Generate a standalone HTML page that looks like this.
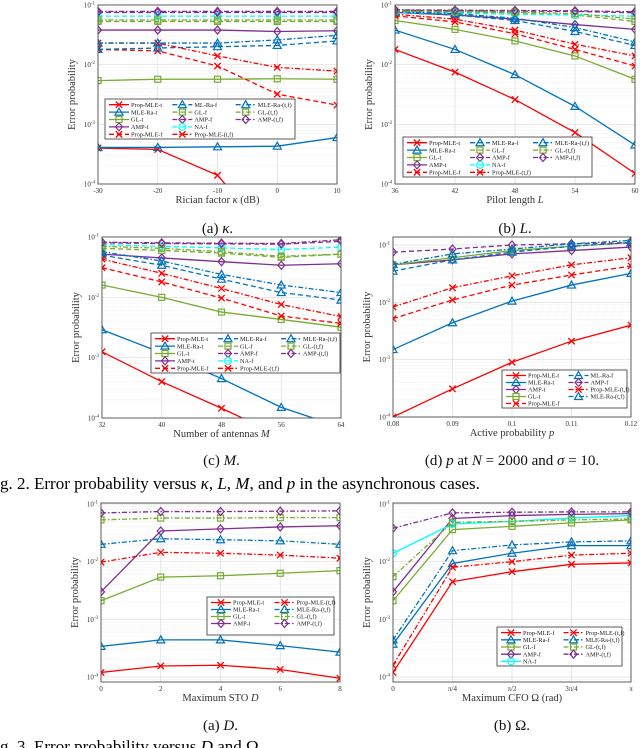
<!DOCTYPE html>
<html><head><meta charset="utf-8"><style>
html,body{margin:0;padding:0;background:#fff;}
svg{display:block;font-family:"Liberation Serif",serif;}
</style></head><body>
<svg id="fig" width="640" height="748" viewBox="0 0 640 748" xmlns="http://www.w3.org/2000/svg">
<text x="0" y="489" font-size="17">g. 2. Error probability versus <tspan font-style="italic">κ</tspan>, <tspan font-style="italic">L</tspan>, <tspan font-style="italic">M</tspan>, and <tspan font-style="italic">p</tspan> in the asynchronous cases.</text>
<text x="0" y="752" font-size="17">g. 3. Error probability versus <tspan font-style="italic">D</tspan> and Ω.</text>
</svg>
<script>
// ---------- Chart (a) kappa ----------
const kappaX=[-30,-20,-10,0,10];
const kappaTicks=['-30','-20','-10','0','10'];
const kappa_PropMLE_t=[4e-4,3.8e-4,1.4e-4,1e-5,1e-5];
const kappa_MLERa_t=[4.1e-4,4.1e-4,4.2e-4,4.3e-4,6e-4];
const kappa_GL_t=[0.0054,0.0057,0.0057,0.0058,0.0057];
const kappa_AMP_t=[0.038,0.038,0.038,0.036,0.037];
const kappa_PropMLE_f=[0.018,0.017,0.0095,0.0032,0.0021];
const kappa_MLRa_f=[0.018,0.019,0.02,0.021,0.025];
const kappa_GL_f=[0.053,0.053,0.053,0.053,0.053];
const kappa_AMP_f=[0.075,0.075,0.075,0.075,0.075];
const kappa_NA_f=[0.065,0.065,0.065,0.065,0.065];
const kappa_PropMLE_tf=[0.023,0.023,0.014,0.009,0.0078];
const kappa_MLERa_tf=[0.023,0.023,0.023,0.026,0.031];
const kappa_GL_tf=[0.056,0.056,0.056,0.056,0.056];
const kappa_AMP_tf=[0.078,0.078,0.078,0.078,0.078];
// ---------- Chart (b) L ----------
const lenX=[36,42,48,54,60];
const lenTicks=['36','42','48','54','60'];
const len_PropMLE_t=[0.018,0.0075,0.0026,0.00073,0.00015];
const len_MLERa_t=[0.038,0.018,0.0068,0.002,0.00045];
const len_GL_t=[0.055,0.039,0.025,0.014,0.0057];
const len_AMP_t=[0.075,0.068,0.058,0.047,0.039];
const len_PropMLE_f=[0.066,0.052,0.033,0.018,0.0095];
const len_MLERa_f=[0.075,0.068,0.055,0.036,0.021];
const len_GL_f=[0.078,0.076,0.074,0.068,0.053];
const len_AMP_f=[0.082,0.08,0.079,0.078,0.074];
const len_NA_f=[0.075,0.073,0.07,0.068,0.065];
const len_PropMLE_tf=[0.07,0.058,0.038,0.022,0.014];
const len_MLERa_tf=[0.077,0.072,0.06,0.042,0.024];
const len_GL_tf=[0.079,0.078,0.076,0.072,0.058];
const len_AMP_tf=[0.083,0.082,0.081,0.08,0.077];
// ---------- Chart (c) M ----------
const antX=[32,40,48,56,64];
const antTicks=['32','40','48','56','64'];
const ant_PropMLE_t=[0.00125,0.0004,0.000145,0.00005,0.00002];
const ant_MLERa_t=[0.0029,0.0012,0.00045,0.00015,0.00007];
const ant_GL_t=[0.016,0.01,0.0057,0.0043,0.0032];
const ant_AMP_t=[0.052,0.045,0.039,0.034,0.036];
const ant_PropMLE_f=[0.031,0.018,0.0097,0.0049,0.0037];
const ant_MLERa_f=[0.05,0.034,0.02,0.012,0.009];
const ant_GL_f=[0.065,0.06,0.054,0.046,0.052];
const ant_AMP_f=[0.08,0.078,0.077,0.076,0.085];
const ant_NA_f=[0.075,0.07,0.066,0.062,0.068];
const ant_PropMLE_tf=[0.043,0.025,0.014,0.0076,0.0048];
const ant_MLERa_tf=[0.057,0.04,0.024,0.016,0.012];
const ant_GL_tf=[0.07,0.065,0.057,0.048,0.052];
const ant_AMP_tf=[0.082,0.08,0.079,0.078,0.09];
// ---------- Chart (d) p ----------
const probX=[0.08,0.09,0.1,0.11,0.12];
const probTicks=['0.08','0.09','0.1','0.11','0.12'];
const prob_PropMLE_t=[0.0001,0.00031,0.0009,0.0021,0.004];
const prob_MLERa_t=[0.0015,0.0044,0.0105,0.02,0.032];
const prob_AMP_t=[0.045,0.055,0.07,0.08,0.092];
const prob_GL_t=[0.045,0.06,0.08,0.095,0.11];
const prob_PropMLE_f=[0.0052,0.011,0.02,0.03,0.043];
const prob_MLRa_f=[0.035,0.055,0.075,0.095,0.11];
const prob_AMP_f=[0.075,0.085,0.1,0.105,0.11];
const prob_PropMLE_tf=[0.0083,0.018,0.029,0.045,0.06];
const prob_MLERa_tf=[0.046,0.07,0.085,0.105,0.12];
// ---------- Fig3 (a) D ----------
const stoX=[0,2,4,6,8];
const stoTicks=['0','2','4','6','8'];
const sto_PropMLE_t=[0.00012,0.000155,0.00016,0.000135,0.000095];
const sto_MLERa_t=[0.00034,0.00044,0.00044,0.00035,0.00027];
const sto_GL_t=[0.0021,0.0054,0.0057,0.0063,0.007];
const sto_AMP_t=[0.003,0.034,0.037,0.04,0.042];
const sto_PropMLE_tf=[0.0098,0.0145,0.014,0.013,0.0115];
const sto_MLERa_tf=[0.02,0.025,0.024,0.023,0.02];
const sto_GL_tf=[0.053,0.057,0.057,0.058,0.058];
const sto_AMP_tf=[0.07,0.074,0.074,0.075,0.076];
// ---------- Fig3 (b) Omega ----------
const cfoX=[0,1,2,3,4];
const cfoTicks=['0','π/4','π/2','3π/4','π'];
const cfo_PropMLE_f=[0.00012,0.0045,0.0067,0.009,0.0095];
const cfo_MLERa_f=[0.00037,0.0093,0.014,0.019,0.019];
const cfo_GL_f=[0.0021,0.036,0.041,0.047,0.053];
const cfo_AMP_f=[0.003,0.056,0.063,0.066,0.068];
const cfo_NA_f=[0.014,0.045,0.05,0.057,0.063];
const cfo_PropMLE_tf=[0.00016,0.008,0.01,0.013,0.014];
const cfo_MLERa_tf=[0.00044,0.0155,0.0195,0.022,0.023];
const cfo_GL_tf=[0.0055,0.048,0.05,0.053,0.055];
const cfo_AMP_tf=[0.038,0.07,0.072,0.073,0.073];

const NS='http://www.w3.org/2000/svg';
const svg=document.getElementById('fig');
const COL={p:'#ff0000',m:'#0072bd',g:'#77ac30',a:'#7e2f8e',n:'#00ffff'};
const DASH={t:'',f:'5,3',tf:'5,2,1.5,2'};
function mk(tag,attrs,parent){const e=document.createElementNS(NS,tag);for(const k in attrs)e.setAttribute(k,attrs[k]);(parent||svg).appendChild(e);return e;}
function marker(g,type,x,y,c){
  let e;const r=3.2;
  if(type==='x'){e=mk('path',{d:`M${x-r} ${y-r}L${x+r} ${y+r}M${x-r} ${y+r}L${x+r} ${y-r}`,stroke:c,'stroke-width':1.3,fill:'none'},g);}
  else if(type==='tri'){e=mk('path',{d:`M${x} ${y-4}L${x+4} ${y+3}L${x-4} ${y+3}Z`,stroke:c,'stroke-width':1.2,fill:'none'},g);}
  else if(type==='sq'){e=mk('rect',{x:x-3,y:y-3,width:6,height:6,stroke:c,'stroke-width':1.2,fill:'none'},g);}
  else if(type==='dia'){e=mk('path',{d:`M${x} ${y-4}L${x+3.5} ${y}L${x} ${y+4}L${x-3.5} ${y}Z`,stroke:c,'stroke-width':1.2,fill:'none'},g);}
  else {e=mk('circle',{cx:x,cy:y,r:3.4,stroke:c,'stroke-width':1.2,fill:'none'},g);}
  
  
}
const MK={p:'x',m:'tri',g:'sq',a:'dia',n:'circ'};
let clipId=0;
function chart(cfg){
  const {id,x0,x1,y1,y4,axTop,axBot,xv,xt,series,xlabel,caption,capY,leg}=cfg;
  const g=mk('g',{});
  
  
  const dec=(y4-y1)/3;
  const xs=v=>x0+(v-xv[0])/(xv[xv.length-1]-xv[0])*(x1-x0);
  const ys=v=>y1+(-1-Math.log10(v))*dec;
  for(let d=-5;d<=-1;d++){for(let k=1;k<10;k++){const v=k*Math.pow(10,d);const y=ys(v);if(y<axTop-0.1||y>axBot+0.1)continue;
    const gl=mk('line',{x1:x0,x2:x1,y1:y,y2:y,stroke:k===1?'#dcdcdc':'#ececec','stroke-width':0.7,'stroke-dasharray':k===1?'':'1,1'},g);
    }}
  xv.forEach(v=>{const gl=mk('line',{x1:xs(v),x2:xs(v),y1:axTop,y2:axBot,stroke:'#dcdcdc','stroke-width':0.7},g);
    });
  const cid='c'+(clipId++);
  const cp=mk('clipPath',{id:cid},g);mk('rect',{x:x0,y:axTop,width:x1-x0,height:axBot-axTop},cp);
  const sg=mk('g',{'clip-path':`url(#${cid})`},g);
  series.forEach(s=>{
    const c=COL[s.k];
    const pts=s.v.map((v,i)=>xs(xv[i]).toFixed(2)+','+ys(v).toFixed(2)).join(' ');
    const ln=mk('polyline',{points:pts,fill:'none',stroke:c,'stroke-width':1.3,'stroke-dasharray':DASH[s.d]},sg);
    
    
    s.v.forEach((v,i)=>marker(sg,MK[s.k],xs(xv[i]),ys(v),c));
  });
  const bx=mk('rect',{x:x0,y:axTop,width:x1-x0,height:axBot-axTop,fill:'none',stroke:'#4d4d4d','stroke-width':0.9},g);
  
  for(let d=-4;d<=-1;d++){const y=ys(Math.pow(10,d));
    const t=mk('text',{x:x0-3,y:y+2.5,'font-size':7,'text-anchor':'end',fill:'#333'},g);
    t.textContent='10';const sp=mk('tspan',{dy:-3,'font-size':5},t);sp.textContent=String(d);
    }
  xv.forEach((v,i)=>{const t=mk('text',{x:xs(v),y:axBot+9,'font-size':7,'text-anchor':'middle',fill:'#333'},g);
    t.textContent=xt[i];});
  const yl=mk('text',{x:0,y:0,'font-size':10.5,'text-anchor':'middle',fill:'#333',transform:`translate(${x0-23},${(axTop+axBot)/2}) rotate(-90)`},g);
  yl.textContent='Error probability';
  const xl=mk('text',{x:(x0+x1)/2,y:axBot+19,'font-size':10.5,'text-anchor':'middle',fill:'#333'},g);
  xl.innerHTML=xlabel;
  const cap=mk('text',{x:(x0+x1)/2,y:capY,'font-size':15,'text-anchor':'middle',fill:'#111'},g);
  cap.innerHTML=caption;
  const lg=mk('g',{},g);
  
  mk('rect',{x:leg.x,y:leg.y,width:leg.w,height:leg.h,fill:'#fff',stroke:'#333','stroke-width':0.8},lg);
  const rows=5,rh=(leg.h-3)/rows,cw=leg.w/leg.cols.length;
  leg.cols.forEach((col,ci)=>col.forEach((name,ri)=>{
    const s=series.find(q=>q.name===name)||{name:name,k:name.startsWith('Prop')?'p':name.startsWith('GL')?'g':name.startsWith('AMP')?'a':name.startsWith('NA')?'n':'m',d:name.endsWith('(t,f)')?'tf':name.endsWith('-t')?'t':'f'};
    const lx=leg.x+4+ci*cw,ly=leg.y+2+rh*(ri+0.5);
    const e=mk('g',{},lg);
    
    mk('line',{x1:lx,x2:lx+20,y1:ly,y2:ly,stroke:COL[s.k],'stroke-width':1.3,'stroke-dasharray':DASH[s.d]},e);
    marker(e,MK[s.k],lx+10,ly,COL[s.k]);
    const t=mk('text',{x:lx+22,y:ly+2.2,'font-size':6.3,fill:'#222'},e);t.textContent=name;
  }));
}
function S(name,k,d,v){return {name,k,d,v};}
chart({id:'kappa',x0:98,x1:337,y1:5,y4:184,axTop:5,axBot:184,xv:kappaX,xt:kappaTicks,
 xlabel:'Rician factor <tspan font-style="italic">κ</tspan> (dB)',caption:'(a)  <tspan font-style="italic">κ</tspan>.',capY:233,
 series:[S('Prop-MLE-t','p','t',kappa_PropMLE_t),S('MLE-Ra-t','m','t',kappa_MLERa_t),S('GL-t','g','t',kappa_GL_t),S('AMP-t','a','t',kappa_AMP_t),
  S('Prop-MLE-f','p','f',kappa_PropMLE_f),S('ML-Ra-f','m','f',kappa_MLRa_f),S('GL-f','g','f',kappa_GL_f),S('AMP-f','a','f',kappa_AMP_f),S('NA-f','n','f',kappa_NA_f),
  S('Prop-MLE-(t,f)','p','tf',kappa_PropMLE_tf),S('MLE-Ra-(t,f)','m','tf',kappa_MLERa_tf),S('GL-(t,f)','g','tf',kappa_GL_tf),S('AMP-(t,f)','a','tf',kappa_AMP_tf)],
 leg:{x:105,y:99,w:190,h:40,cols:[['Prop-MLE-t','MLE-Ra-t','GL-t','AMP-t','Prop-MLE-f'],['ML-Ra-f','GL-f','AMP-f','NA-f','Prop-MLE-(t,f)'],['MLE-Ra-(t,f)','GL-(t,f)','AMP-(t,f)']]}});
chart({id:'pilot',x0:395,x1:635,y1:5,y4:184,axTop:5,axBot:184,xv:lenX,xt:lenTicks,
 xlabel:'Pilot length <tspan font-style="italic">L</tspan>',caption:'(b)  <tspan font-style="italic">L</tspan>.',capY:233,
 series:[S('Prop-MLE-t','p','t',len_PropMLE_t),S('MLE-Ra-t','m','t',len_MLERa_t),S('GL-t','g','t',len_GL_t),S('AMP-t','a','t',len_AMP_t),
  S('Prop-MLE-f','p','f',len_PropMLE_f),S('MLE-Ra-f','m','f',len_MLERa_f),S('GL-f','g','f',len_GL_f),S('AMP-f','a','f',len_AMP_f),S('NA-f','n','f',len_NA_f),
  S('Prop-MLE-(t,f)','p','tf',len_PropMLE_tf),S('MLE-Ra-(t,f)','m','tf',len_MLERa_tf),S('GL-(t,f)','g','tf',len_GL_tf),S('AMP-(t,f)','a','tf',len_AMP_tf)],
 leg:{x:403,y:137,w:189,h:40,cols:[['Prop-MLE-t','MLE-Ra-t','GL-t','AMP-t','Prop-MLE-f'],['MLE-Ra-f','GL-f','AMP-f','NA-f','Prop-MLE-(t,f)'],['MLE-Ra-(t,f)','GL-(t,f)','AMP-(t,f)']]}});
chart({id:'antennas',x0:102,x1:341,y1:237,y4:418,axTop:237,axBot:418,xv:antX,xt:antTicks,
 xlabel:'Number of antennas <tspan font-style="italic">M</tspan>',caption:'(c)  <tspan font-style="italic">M</tspan>.',capY:465,
 series:[S('Prop-MLE-t','p','t',ant_PropMLE_t),S('MLE-Ra-t','m','t',ant_MLERa_t),S('GL-t','g','t',ant_GL_t),S('AMP-t','a','t',ant_AMP_t),
  S('Prop-MLE-f','p','f',ant_PropMLE_f),S('MLE-Ra-f','m','f',ant_MLERa_f),S('GL-f','g','f',ant_GL_f),S('AMP-f','a','f',ant_AMP_f),S('NA-f','n','f',ant_NA_f),
  S('Prop-MLE-(t,f)','p','tf',ant_PropMLE_tf),S('MLE-Ra-(t,f)','m','tf',ant_MLERa_tf),S('GL-(t,f)','g','tf',ant_GL_tf),S('AMP-(t,f)','a','tf',ant_AMP_tf)],
 leg:{x:151,y:333,w:189,h:40,cols:[['Prop-MLE-t','MLE-Ra-t','GL-t','AMP-t','Prop-MLE-f'],['MLE-Ra-f','GL-f','AMP-f','NA-f','Prop-MLE-(t,f)'],['MLE-Ra-(t,f)','GL-(t,f)','AMP-(t,f)']]}});
chart({id:'active-prob',x0:393,x1:631,y1:245,y4:417,axTop:237,axBot:417,xv:probX,xt:probTicks,
 xlabel:'Active probability <tspan font-style="italic">p</tspan>',caption:'(d)  <tspan font-style="italic">p</tspan> at <tspan font-style="italic">N</tspan> = 2000 and <tspan font-style="italic">σ</tspan> = 10.',capY:465,
 series:[S('Prop-MLE-t','p','t',prob_PropMLE_t),S('MLE-Ra-t','m','t',prob_MLERa_t),S('AMP-t','a','t',prob_AMP_t),S('GL-t','g','t',prob_GL_t),
  S('Prop-MLE-f','p','f',prob_PropMLE_f),S('ML-Ra-f','m','f',prob_MLRa_f),S('AMP-f','a','f',prob_AMP_f),
  S('Prop-MLE-(t,f)','p','tf',prob_PropMLE_tf),S('MLE-Ra-(t,f)','m','tf',prob_MLERa_tf)],
 leg:{x:502,y:370,w:125,h:38,cols:[['Prop-MLE-t','MLE-Ra-t','AMP-t','GL-t','Prop-MLE-f'],['ML-Ra-f','AMP-f','Prop-MLE-(t,f)','MLE-Ra-(t,f)']]}});
chart({id:'sto',x0:101,x1:340,y1:504,y4:677,axTop:503,axBot:682,xv:stoX,xt:stoTicks,
 xlabel:'Maximum STO <tspan font-style="italic">D</tspan>',caption:'(a)  <tspan font-style="italic">D</tspan>.',capY:730,
 series:[S('Prop-MLE-t','p','t',sto_PropMLE_t),S('MLE-Ra-t','m','t',sto_MLERa_t),S('GL-t','g','t',sto_GL_t),S('AMP-t','a','t',sto_AMP_t),
  S('Prop-MLE-(t,f)','p','tf',sto_PropMLE_tf),S('MLE-Ra-(t,f)','m','tf',sto_MLERa_tf),S('GL-(t,f)','g','tf',sto_GL_tf),S('AMP-(t,f)','a','tf',sto_AMP_tf)],
 leg:{x:207,y:597,w:127,h:38,cols:[['Prop-MLE-t','MLE-Ra-t','GL-t','AMP-t'],['Prop-MLE-(t,f)','MLE-Ra-(t,f)','GL-(t,f)','AMP-(t,f)']]}});
chart({id:'cfo',x0:393,x1:631,y1:504,y4:677,axTop:503,axBot:682,xv:cfoX,xt:cfoTicks,
 xlabel:'Maximum CFO Ω (rad)',caption:'(b)  Ω.',capY:730,
 series:[S('Prop-MLE-f','p','t',cfo_PropMLE_f),S('MLE-Ra-f','m','t',cfo_MLERa_f),S('GL-f','g','t',cfo_GL_f),S('AMP-f','a','t',cfo_AMP_f),S('NA-f','n','t',cfo_NA_f),
  S('Prop-MLE-(t,f)','p','tf',cfo_PropMLE_tf),S('MLE-Ra-(t,f)','m','tf',cfo_MLERa_tf),S('GL-(t,f)','g','tf',cfo_GL_tf),S('AMP-(t,f)','a','tf',cfo_AMP_tf)],
 leg:{x:497,y:627,w:125,h:39,cols:[['Prop-MLE-f','MLE-Ra-f','GL-f','AMP-f','NA-f'],['Prop-MLE-(t,f)','MLE-Ra-(t,f)','GL-(t,f)','AMP-(t,f)']]}});
</script>
</body></html>
